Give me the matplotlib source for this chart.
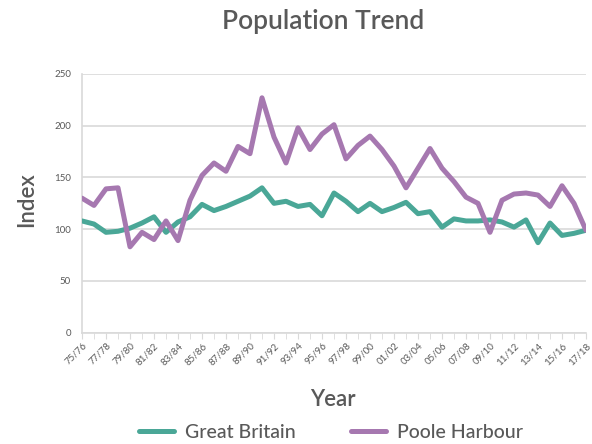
import matplotlib
matplotlib.use("Agg")
import matplotlib.pyplot as plt

seasons = [f"{y % 100:02d}/{(y + 1) % 100:02d}" for y in range(1975, 2018)]

great_britain = [108, 105, 97, 98, 101, 106, 112, 97, 107, 112,
                 124, 118, 122, 127, 132, 140, 125, 127, 122, 124,
                 113, 135, 127, 117, 125, 117, 121, 126, 115, 117,
                 102, 110, 108, 108, 109, 107, 102, 109, 87, 106,
                 94, 96, 99]

poole_harbour = [130, 123, 139, 140, 83, 97, 90, 108, 89, 128,
                 152, 164, 156, 180, 173, 227, 189, 164, 198, 177,
                 192, 201, 168, 181, 190, 177, 161, 140, 159, 178,
                 159, 146, 131, 125, 97, 128, 134, 135, 133, 122,
                 142, 125, 99]

yticks = [0, 50, 100, 150, 200, 250]

TEXT = "#595959"
GREEN = "#4aa797"
PURPLE = "#a678b0"
GRID = "#d9d9d9"
FONT = ["Lato", "DejaVu Sans"]

plt.rcParams["font.family"] = FONT

fig = plt.figure(figsize=(5.92, 4.44), dpi=100)
ax = fig.add_axes([82 / 592, 1 - 332.7 / 444, (586 - 82) / 592, (332.7 - 74) / 444])

x = list(range(len(seasons)))
ax.plot(x, great_britain, color=GREEN, lw=3.6, solid_joinstyle="round",
        solid_capstyle="round", label="Great Britain", zorder=3)
ax.plot(x, poole_harbour, color=PURPLE, lw=3.6, solid_joinstyle="round",
        solid_capstyle="round", label="Poole Harbour", zorder=3)

ax.set_xlim(0, len(seasons) - 1)
ax.set_ylim(0, 250)
ax.set_yticks(yticks)
ax.set_yticklabels([str(v) for v in yticks], fontsize=7, color=TEXT)
ax.yaxis.grid(True, color=GRID, lw=1.2)
ax.set_axisbelow(True)
ax.tick_params(axis="y", length=0, pad=8)

ax.set_xticks(x, minor=True)
ax.set_xticks(x[::2])
ax.set_xticklabels(seasons[::2], rotation=45, ha="right", rotation_mode="anchor",
                   fontsize=7, color=TEXT)
ax.tick_params(axis="x", which="both", length=4, color=GRID, pad=2)

for s in ["top", "right"]:
    ax.spines[s].set_visible(False)
ax.spines["left"].set_color(GRID)
ax.spines["bottom"].set_color(GRID)
ax.spines["left"].set_linewidth(1.2)
ax.spines["bottom"].set_linewidth(1.2)

fig.text(323 / 592, 1 - 22 / 444, "Population Trend", ha="center", va="center",
         fontsize=19, color=TEXT, fontweight="semibold")
fig.text(27 / 592, 1 - 200 / 444, "Index", ha="center", va="center",
         rotation=90, fontsize=16, color=TEXT, fontweight="semibold")
fig.text(333 / 592, 1 - 399 / 444, "Year", ha="center", va="center",
         fontsize=16, color=TEXT, fontweight="semibold")

handles, labels = ax.get_legend_handles_labels()
fig.legend(handles, labels, loc="center", bbox_to_anchor=(331 / 592, 1 - 432 / 444),
           ncol=2, frameon=False, labelcolor=TEXT,
           handlelength=1.8, columnspacing=2.8, handletextpad=0.6,
           prop={"family": FONT, "size": 14, "weight": "medium"})

fig.savefig("out.png", dpi=100)
